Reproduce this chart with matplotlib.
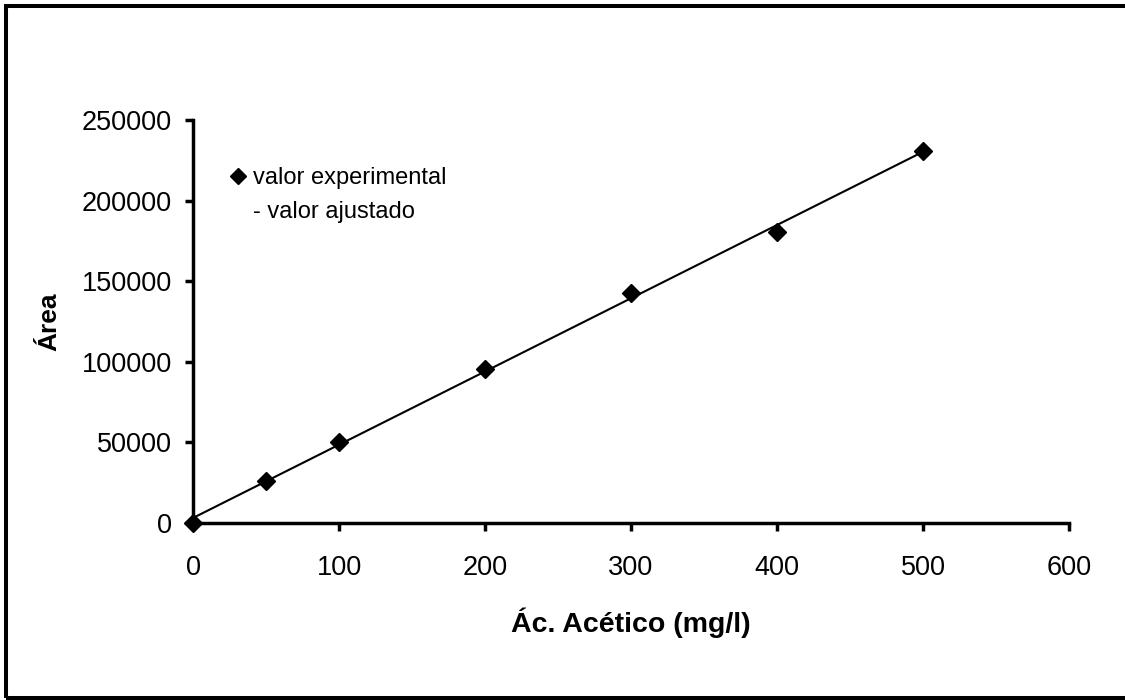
import numpy as np
import matplotlib.pyplot as plt
from matplotlib.lines import Line2D
from matplotlib.patches import Rectangle

plt.rcParams['font.family'] = ['Liberation Sans', 'DejaVu Sans']

# datos
conc = [0, 50, 100, 200, 300, 400, 500]
area = [0, 26200, 50500, 95500, 142500, 180300, 231000]
xticks = [0, 100, 200, 300, 400, 500, 600]
yticks = [0, 50000, 100000, 150000, 200000, 250000]

# recta ajustada
slope, icpt = np.polyfit(conc, area, 1)
xfit = np.array([0, 500])
yfit = icpt + slope * xfit

fig = plt.figure(figsize=(11.25, 7), dpi=100)
ax = fig.add_axes([0.1716, 0.2529, 0.7786, 0.5757])

ax.plot(xfit, yfit, color='black', linewidth=1.5, zorder=2)
ax.plot(conc, area, linestyle='none', marker='D', markersize=9,
        color='black', zorder=3, clip_on=False)

ax.set_xlim(0, 600)
ax.set_ylim(0, 250000)
ax.set_xticks(xticks)
ax.set_yticks(yticks)
ax.tick_params(direction='out', length=6, width=2.5, labelsize=19.5)
ax.tick_params(axis='y', pad=9)
ax.tick_params(axis='x', pad=17)
for s in ['top', 'right']:
	ax.spines[s].set_visible(False)
for s in ['left', 'bottom']:
	ax.spines[s].set_linewidth(2.5)

ax.set_xlabel('Ác. Acético (mg/l)', fontsize=20.5, fontweight='bold', labelpad=19)
ax.set_ylabel('Área', fontsize=19, fontweight='bold', labelpad=15)

handles = [Line2D([], [], linestyle='none', marker='D', markersize=8, color='black'),
           Line2D([], [], linestyle='none')]
ax.legend(handles, ['valor experimental', '- valor ajustado'], loc='upper left',
          bbox_to_anchor=(0.0205, 0.935), frameon=False, fontsize=17,
          handlelength=0.5, handletextpad=0.39, labelspacing=0.5)

fig.patches.append(Rectangle((6 / 1125, 2 / 700), 1.1, 692 / 700, transform=fig.transFigure,
                             fill=False, edgecolor='black', linewidth=2.9))

fig.savefig('out.png', dpi=100)
